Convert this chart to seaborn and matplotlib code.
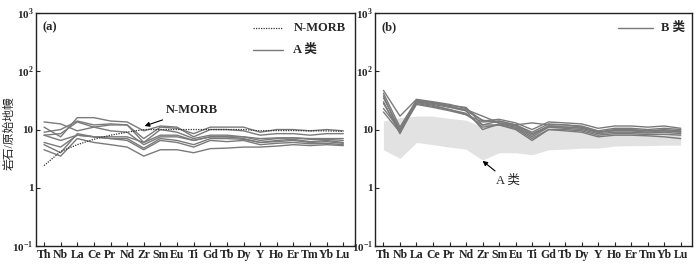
import numpy as np
import pandas as pd
import seaborn as sns
import matplotlib.pyplot as plt

elements = ['Th', 'Nb', 'La', 'Ce', 'Pr', 'Nd', 'Zr', 'Sm', 'Eu', 'Ti',
            'Gd', 'Tb', 'Dy', 'Y', 'Ho', 'Er', 'Tm', 'Yb', 'Lu']

# primitive-mantle normalised values
n_morb = [2.4, 4.2, 5.5, 6.8, 8.0, 9.0, 10.0, 10.0, 10.0, 10.0,
          10.0, 10.0, 10.0, 9.5, 9.6, 9.6, 9.5, 9.5, 9.3]

a_samples = {
    'A1': [13.5, 12.5, 9.5, 11, 12, 12, 7, 11, 10.5, 8.5, 11, 11, 11, 9, 10, 10, 9.5, 10, 9.5],
    'A2': [11, 7.5, 16, 16, 14, 13.5, 9.5, 11.5, 11, 7.5, 10, 10, 9.5, 8, 8.5, 8.5, 8, 8.5, 8.5],
    'A3': [9, 10, 14, 12, 12.5, 12, 6, 10, 9, 7, 8, 8, 7.5, 6.5, 7, 7.2, 6.8, 6.8, 6.5],
    'A4': [8, 8.5, 13.5, 11, 9.5, 9, 5.5, 7.5, 7.5, 6.5, 7.5, 7.5, 7, 6, 6.5, 6.8, 6.2, 6.5, 6],
    'A5': [6, 5, 8, 7.5, 7, 6.5, 4.5, 6.5, 6, 5, 6.5, 6.2, 6.5, 5.5, 5.8, 6, 5.7, 5.8, 5.5],
    'A6': [5.5, 4, 8.5, 7.5, 7, 7, 4.8, 7, 6.5, 5.5, 7, 7, 6.8, 6, 6.2, 6.5, 6, 6.2, 5.8],
    'A7': [4.5, 3.5, 7, 6, 5.5, 5, 3.5, 4.5, 4.5, 4, 4.7, 4.8, 5, 5, 5.2, 5.5, 5.3, 5.5, 5.3],
    'A8': [8, 6.5, 8, 7.5, 7.5, 7.5, 6, 8, 8, 6.5, 7.5, 7.5, 7.5, 7, 7.2, 7.2, 7, 7, 7],
}

b_samples = {
    'B1': [47, 17, 33, 30, 27, 23, 14, 15, 13, 10, 13.5, 13, 12.5, 10.5, 11.5, 11.5, 11, 11.5, 10.5],
    'B2': [38, 9, 32, 29, 26, 24, 12, 14, 12, 13, 12, 12, 11.5, 9.5, 10.5, 10.5, 10, 10.5, 10],
    'B3': [35, 10, 31, 28, 25, 22, 17, 13, 11.5, 8, 11.5, 11, 10.5, 9, 9.5, 9.5, 9, 9.5, 9],
    'B4': [30, 8.5, 30, 27, 24, 21, 10, 12.5, 11, 7.5, 11, 10.5, 10, 8.5, 9, 9, 8.7, 9, 8.5],
    'B5': [28, 9.5, 29, 26, 22, 19, 11, 12, 10.5, 7, 10, 10, 9.5, 8, 8.5, 8.5, 8.2, 8.3, 8],
    'B6': [23, 10, 28, 25, 22, 18, 12, 12, 10, 6.5, 10, 9.5, 9, 7.5, 8, 8, 7.8, 7.5, 7],
    'B7': [20, 9, 27, 24, 21, 18, 13.5, 14, 12, 9, 12.5, 12, 11, 9, 10, 10, 9.5, 10, 9.5],
    'B8': [42, 11, 32, 29, 25, 21, 14.5, 13, 12, 8.5, 11.5, 11, 11, 9, 9.8, 9.8, 9.5, 9.5, 9.2],
}

# range of the A-type samples, shown as a shaded field in panel b
a_low = [4.5, 3.2, 6.0, 5.5, 5.0, 4.6, 3.0, 4.0, 4.0, 3.7, 4.5, 4.6, 4.8, 4.8, 5.2, 5.3, 5.3, 5.4, 5.4]
a_high = [14, 16, 17, 17, 15.5, 14.5, 11, 13, 12.5, 9, 11.5, 11.5, 11, 9.5, 10, 10, 10, 10, 10]


def long_form(samples):
    rows = []
    for name, vals in samples.items():
        for i, v in enumerate(vals):
            rows.append({'sample': name, 'pos': i, 'value': v})
    return pd.DataFrame(rows)


df_a = long_form(a_samples)
df_b = long_form(b_samples)
df_morb = pd.DataFrame({'pos': range(len(elements)), 'value': n_morb})

sns.set_style('ticks')
plt.rcParams['font.family'] = ['Liberation Serif', 'Noto Sans CJK SC']
plt.rcParams['font.weight'] = 'bold'
plt.rcParams['mathtext.fontset'] = 'custom'
plt.rcParams['mathtext.rm'] = 'Liberation Serif:bold'
plt.rcParams['mathtext.bf'] = 'Liberation Serif:bold'

line_c = '#7a7a7a'
fig = plt.figure(figsize=(7, 2.66), dpi=100)
ax1 = fig.add_axes([0.051, 0.075, 0.456, 0.876])
ax2 = fig.add_axes([0.536, 0.075, 0.453, 0.876])

sns.lineplot(data=df_a, x='pos', y='value', units='sample', estimator=None,
             color=line_c, linewidth=1.0, ax=ax1)
sns.lineplot(data=df_morb, x='pos', y='value', color='#333333', linewidth=0.9,
             linestyle=(0, (1, 1)), ax=ax1)

ax2.fill_between(range(len(elements)), a_low, a_high, color='#e2e2e2', linewidth=0)
sns.lineplot(data=df_b, x='pos', y='value', units='sample', estimator=None,
             color=line_c, linewidth=1.0, ax=ax2)

ylabels = ['$10^{-1}$', '1', '10', '$10^{2}$', '$10^{3}$']
for ax in (ax1, ax2):
    ax.set_yscale('log')
    ax.set_ylim(0.1, 1000)
    ax.set_xlim(-0.5, 18.7)
    ax.set_yticks([0.1, 1, 10, 100, 1000])
    ax.set_yticklabels(ylabels)
    ax.minorticks_off()
    ax.set_xticks(range(len(elements)))
    ax.set_xticklabels(elements, fontsize=8.5, fontweight='bold')
    ax.tick_params(axis='both', direction='in', length=3, width=0.8, pad=2)
    ax.tick_params(axis='y', labelsize=8, pad=1.5)
    ax.set_xlabel('')
    ax.set_ylabel('')
    for s in ax.spines.values():
        s.set_linewidth(1.0)
        s.set_color('#222222')

fig.text(0.014, 0.5, '岩石/原始地幔', fontsize=8.5, fontweight='normal',
         rotation=90, va='center', ha='center')

ax1.text(0.02, 0.94, '(a)', transform=ax1.transAxes, fontsize=9, fontweight='bold', va='center')
ax2.text(0.02, 0.94, '(b)', transform=ax2.transAxes, fontsize=9, fontweight='bold', va='center')

# legends
ax1.plot([12.6, 14.4], [560, 560], color='#333333', linewidth=0.9, linestyle=(0, (1, 1)))
ax1.text(15.0, 560, 'N-MORB', fontsize=9, fontweight='bold', va='center')
ax1.plot([12.6, 14.4], [230, 230], color=line_c, linewidth=1.0)
ax1.text(15.0, 230, 'A 类', fontsize=9, fontweight='bold', va='center')
ax2.plot([14.2, 16.3], [560, 560], color=line_c, linewidth=1.0)
ax2.text(16.8, 560, 'B 类', fontsize=9, fontweight='bold', va='center')

ax1.annotate('N-MORB', xy=(6.05, 11.5), xytext=(7.3, 21.5), fontsize=9, fontweight='bold',
             va='center', arrowprops=dict(arrowstyle='-|>', color='black', lw=0.8,
                                          mutation_scale=7, shrinkA=1, shrinkB=0))
ax2.annotate('A 类', xy=(6.0, 2.9), xytext=(6.8, 1.3), fontsize=9, fontweight='normal',
             va='center', arrowprops=dict(arrowstyle='-|>', color='black', lw=0.8,
                                          mutation_scale=7, shrinkA=1, shrinkB=0))

fig.savefig('out.png', dpi=100)
